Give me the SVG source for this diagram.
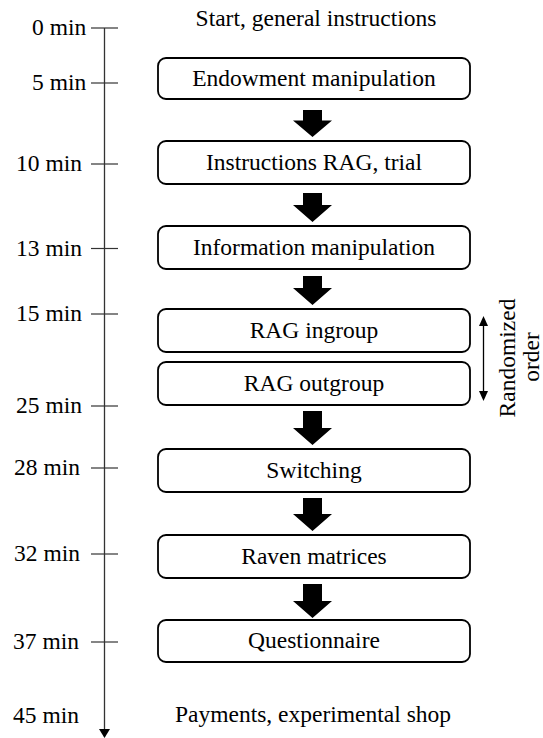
<svg xmlns="http://www.w3.org/2000/svg" width="543" height="738" viewBox="0 0 543 738">
<style>
text{font-family:'Liberation Serif','DejaVu Serif',serif;font-size:23.5px;fill:#000}
.c{text-anchor:middle}
.box{fill:#fff;stroke:#000;stroke-width:1.8}
.tick{stroke:#333;stroke-width:1.2}
.blk{fill:#000}
</style>
<rect width="543" height="738" fill="#fff"/>
<g font-family="Liberation Serif, DejaVu Serif, serif">
<g id="timeline">
<line x1="104.5" y1="28" x2="104.5" y2="730" stroke="#333" stroke-width="1.3"/>
<polygon points="99,729 110,729 104.5,738" fill="#000"/>
<line class="tick" x1="91" y1="28" x2="118" y2="28"/>
<line class="tick" x1="91" y1="83" x2="118" y2="83"/>
<line class="tick" x1="91" y1="164" x2="118" y2="164"/>
<line class="tick" x1="91" y1="248.5" x2="118" y2="248.5"/>
<line class="tick" x1="91" y1="314" x2="118" y2="314"/>
<line class="tick" x1="91" y1="406" x2="118" y2="406"/>
<line class="tick" x1="91" y1="468" x2="118" y2="468"/>
<line class="tick" x1="91" y1="554" x2="118" y2="554"/>
<line class="tick" x1="91" y1="642" x2="118" y2="642"/>
<text x="32" y="35">0 min</text>
<text x="32" y="90">5 min</text>
<text x="16" y="171">10 min</text>
<text x="16" y="256">13 min</text>
<text x="16" y="321">15 min</text>
<text x="16" y="413">25 min</text>
<text x="14" y="475">28 min</text>
<text x="14" y="561">32 min</text>
<text x="13" y="649">37 min</text>
<text x="13" y="723">45 min</text>
</g>
<g id="start"><text class="c" x="316" y="26">Start, general instructions</text></g>
<g id="endowment"><rect class="box" x="158" y="58" width="312" height="41" rx="8"/><text class="c" x="314" y="86">Endowment manipulation</text></g>
<g id="instructions"><rect class="box" x="158" y="141" width="312" height="43" rx="8"/><text class="c" x="314" y="170">Instructions RAG, trial</text></g>
<g id="information"><rect class="box" x="158" y="226" width="312" height="43" rx="8"/><text class="c" x="314" y="255">Information manipulation</text></g>
<g id="ingroup"><rect class="box" x="158" y="309" width="312" height="43" rx="8"/><text class="c" x="314" y="338">RAG ingroup</text></g>
<g id="outgroup"><rect class="box" x="158" y="362" width="312" height="43" rx="8"/><text class="c" x="314" y="391">RAG outgroup</text></g>
<g id="switching"><rect class="box" x="158" y="449" width="312" height="43" rx="8"/><text class="c" x="314" y="478">Switching</text></g>
<g id="raven"><rect class="box" x="158" y="535" width="312" height="43" rx="8"/><text class="c" x="314" y="564">Raven matrices</text></g>
<g id="questionnaire"><rect class="box" x="158" y="620" width="312" height="42" rx="8"/><text class="c" x="314" y="648">Questionnaire</text></g>
<g id="payments"><text class="c" x="313" y="722">Payments, experimental shop</text></g>
<g id="randomized">
<text class="c" transform="translate(515,358) rotate(-90)">Randomized</text>
<text class="c" transform="translate(539,357) rotate(-90)">order</text>
</g>
</g>
<g id="connectors">
<polygon class="blk" points="303,110 322,110 322,120.5 332,120.5 312.5,137 293,120.5 303,120.5"/>
<polygon class="blk" points="303,193 322,193 322,205 332,205 312.5,222 293,205 303,205"/>
<polygon class="blk" points="303,276 322,276 322,288 332,288 312.5,305 293,288 303,288"/>
<polygon class="blk" points="303,411 322,411 322,428 332,428 312.5,445 293,428 303,428"/>
<polygon class="blk" points="303,498 322,498 322,514 332,514 312.5,531 293,514 303,514"/>
<polygon class="blk" points="303,584 322,584 322,601 332,601 312.5,618 293,601 303,601"/>
<line x1="483.5" y1="325" x2="483.5" y2="392" stroke="#000" stroke-width="1.3"/>
<polygon points="479,326 488,326 483.5,316" fill="#000"/>
<polygon points="479,391 488,391 483.5,401" fill="#000"/>
</g>
</svg>
